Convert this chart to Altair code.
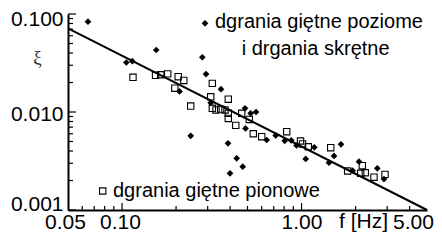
import altair as alt
import pandas as pd

# ---- data ----
diam_f = [0.0646, 0.1056, 0.1141, 0.1550, 0.2090, 0.2800, 0.2936, 0.3558, 0.3119, 0.2413,
          0.3894, 0.4352, 0.4702, 0.3995, 0.4843, 0.5208, 0.5578, 0.4874, 0.6397, 0.7180,
          0.8057, 0.8759, 0.9375, 1.178, 1.055, 1.659, 1.517, 1.422, 2.090, 1.928, 2.643, 2.880]
diam_xi = [0.0834, 0.0320, 0.0330, 0.0429, 0.0162, 0.0362, 0.0244, 0.0171, 0.0124, 0.00571,
           0.00479, 0.00337, 0.00277, 0.00237, 0.0109, 0.0097, 0.0100, 0.00679, 0.00518, 0.00576,
           0.00508, 0.00514, 0.00455, 0.00436, 0.00332, 0.00468, 0.00356, 0.00304, 0.00311, 0.00252,
           0.00266, 0.00207]

sq_f = [0.1151, 0.1537, 0.1642, 0.1797, 0.2055, 0.2209, 0.1968, 0.2413, 0.3184, 0.3119,
        0.3908, 0.3184, 0.3338, 0.3544, 0.3747, 0.3908, 0.3908, 0.4641, 0.5117, 0.4302,
        0.5385, 0.6000, 0.8268, 0.9869, 1.0125, 1.0907, 1.454, 2.181, 1.807, 2.136,
        2.266, 2.533, 2.917]
sq_xi = [0.0226, 0.0237, 0.0240, 0.0245, 0.0229, 0.0210, 0.0175, 0.0115, 0.0196, 0.0143,
         0.0135, 0.0109, 0.0105, 0.0107, 0.0105, 0.0097, 0.0086, 0.0097, 0.0084, 0.0073,
         0.0060, 0.0056, 0.0063, 0.00506, 0.00472, 0.00442, 0.00432, 0.00283, 0.00250, 0.00237,
         0.00240, 0.00216, 0.00231]

fit_f = [0.05, 5.0]
fit_xi = [0.0715, 0.001]

x_major = [0.05, 0.1, 1.0, 5.0]
x_minor = [0.06, 0.07, 0.08, 0.09, 0.2, 0.3, 0.4, 0.5, 0.6, 0.7, 0.8, 0.9, 2.0, 3.0, 4.0]
y_major = [0.001, 0.01, 0.1]
y_minor = [0.002, 0.003, 0.004, 0.005, 0.006, 0.007, 0.008, 0.009,
           0.02, 0.03, 0.04, 0.05, 0.06, 0.07, 0.08, 0.09]

legend_top_1 = "dgrania giętne poziome"
legend_top_2 = "i drgania skrętne"
legend_bottom = "dgrania giętne pionowe"

W, H = 359, 196
FONT = "Liberation Sans"

xscale = alt.Scale(type="log", domain=[0.05, 5.0], nice=False)
yscale = alt.Scale(type="log", domain=[0.001, 0.1], nice=False)

xaxis = alt.Axis(
    values=x_major, format=".2f", title="f [Hz]", grid=False,
    tickSize=0, domainColor="black", domainWidth=2,
    labelFont=FONT, labelFontSize=21, labelColor="black",
    labelBaseline="alphabetic", labelPadding=18, labelFlush=False, labelOverlap=False,
    labelBound=False,
    labelOffset={"condition": [{"test": "datum.value < 0.07", "value": -3},
                               {"test": "datum.value < 0.5", "value": -2},
                               {"test": "datum.value > 2", "value": -14}],
                 "value": 0},
    titleFont=FONT, titleFontSize=21, titleFontWeight="normal", titleColor="black",
    titleAnchor="start", titleAlign="center", titleBaseline="alphabetic",
    titleX=295, titleY=17,
)
yaxis = alt.Axis(
    values=y_major, format=".3f", title="ξ", grid=False,
    tickSize=0, domainColor="black", domainWidth=2,
    labelFont=FONT, labelFontSize=21, labelColor="black",
    labelPadding=5, labelFlush=False, labelOverlap=False, labelBound=False,
    labelOffset={"condition": [{"test": "datum.value > 0.05", "value": 5},
                               {"test": "datum.value < 0.005", "value": -6}],
                 "value": 2},
    titleFont="Liberation Serif", titleFontSize=19, titleFontWeight="normal", titleColor="#333",
    titleAngle=0, titleAlign="center", titleBaseline="middle",
    titleX=-31, titleY=43,
)

sq_df = pd.DataFrame({"f": sq_f, "xi": sq_xi})
di_df = pd.DataFrame({"f": diam_f, "xi": diam_xi})
fit_df = pd.DataFrame({"f": fit_f, "xi": fit_xi})

squares = alt.Chart(sq_df).mark_point(shape="square", filled=False, size=40,
                                      color="black", strokeWidth=1.1, opacity=1).encode(
    x=alt.X("f:Q", scale=xscale, axis=xaxis),
    y=alt.Y("xi:Q", scale=yscale, axis=yaxis),
)
diamonds = alt.Chart(di_df).mark_point(shape="diamond", filled=True, size=45,
                                       color="black", opacity=1).encode(
    x=alt.X("f:Q", scale=xscale),
    y=alt.Y("xi:Q", scale=yscale),
)
fit = alt.Chart(fit_df).mark_line(color="black", strokeWidth=2).encode(
    x=alt.X("f:Q", scale=xscale),
    y=alt.Y("xi:Q", scale=yscale),
)

def xticks(vals, length):
    return alt.Chart(pd.DataFrame({"v": vals})).mark_rule(color="black", strokeWidth=1.2).encode(
        x=alt.X("v:Q", scale=xscale),
        y=alt.value(H), y2=alt.value(H - length),
    )

def yticks(vals, length):
    return alt.Chart(pd.DataFrame({"v": vals})).mark_rule(color="black", strokeWidth=1.2).encode(
        y=alt.Y("v:Q", scale=yscale),
        x=alt.value(0), x2=alt.value(length),
    )

def label(txt, x, y, align="left"):
    return alt.Chart(pd.DataFrame({"t": [txt]})).mark_text(
        align=align, baseline="alphabetic", font=FONT, fontSize=20, color="black").encode(
        text="t:N", x=alt.value(x), y=alt.value(y))

leg_d = alt.Chart(pd.DataFrame({"k": [1]})).mark_point(
    shape="diamond", filled=True, size=45, color="black", opacity=1).encode(
    x=alt.value(137), y=alt.value(9.3))
leg_s = alt.Chart(pd.DataFrame({"k": [1]})).mark_point(
    shape="square", filled=False, size=40, color="black", strokeWidth=1.1, opacity=1).encode(
    x=alt.value(34.7), y=alt.value(177))

chart = alt.layer(
    squares, diamonds, fit,
    xticks(x_major[1:3], 7), xticks(x_minor, 4),
    yticks(y_major, 8), yticks(y_minor, 5),
    leg_d, label(legend_top_1, 147, 14.3), label(legend_top_2, 173.7, 41),
    leg_s, label(legend_bottom, 45, 183.3),
).properties(
    width=W, height=H,
    autosize=alt.AutoSizeParams(type="none"),
    padding={"left": 60, "top": 6, "right": 7, "bottom": 23},
    background="white",
).configure_view(stroke=None)

chart.save("out.html", embed_options={"renderer": "svg", "actions": False})
